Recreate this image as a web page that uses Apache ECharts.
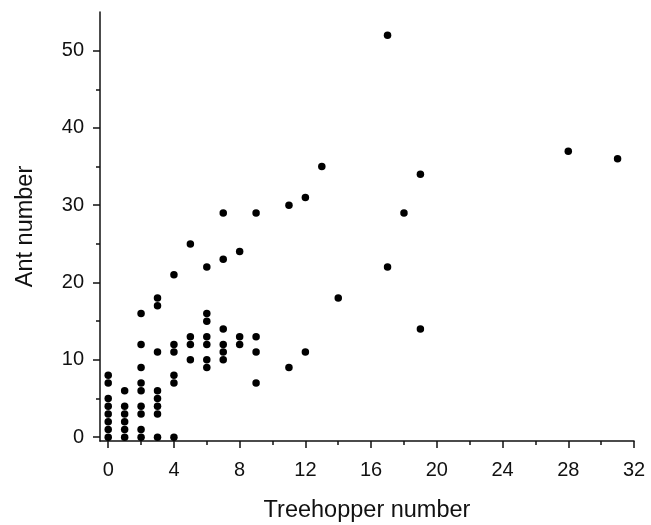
<!DOCTYPE html>
<html>
<head>
<meta charset="utf-8">
<script src="https://cdn.jsdelivr.net/npm/echarts@6/dist/echarts.min.js"></script>
<style>
  html, body { margin: 0; padding: 0; background: #fff; }
  #chart { width: 651px; height: 525px; }
</style>
</head>
<body>
<div id="chart"></div>
<script>
// treehopper count vs ant count, one entry per plant
var treehoppers = [
  0, 0, 0, 0, 0, 0, 0, 0,
  1, 1, 1, 1, 1, 1,
  2, 2, 2, 2, 2, 2, 2, 2, 2,
  3, 3, 3, 3, 3, 3, 3, 3,
  4, 4, 4, 4, 4, 4,
  5, 5, 5, 5,
  6, 6, 6, 6, 6, 6, 6,
  7, 7, 7, 7, 7, 7,
  8, 8, 8,
  9, 9, 9, 9,
  11, 11, 12, 12, 13, 14, 17, 17, 18, 19, 19, 28, 31
]
var ants = [
  0, 1, 2, 3, 4, 5, 7, 8,
  0, 1, 2, 3, 4, 6,
  0, 1, 3, 4, 6, 7, 9, 12, 16,
  0, 3, 4, 5, 6, 11, 17, 18,
  0, 7, 8, 11, 12, 21,
  10, 12, 13, 25,
  9, 10, 12, 13, 15, 16, 22,
  10, 11, 12, 14, 23, 29,
  12, 13, 24,
  7, 11, 13, 29,
  9, 30, 11, 31, 35, 18, 22, 52, 29, 14, 34, 37, 36
]
var xTicks = [0, 4, 8, 12, 16, 20, 24, 28, 32]
var xMinorTicks = [0, 2, 4, 6, 8, 10, 12, 14, 16, 18, 20, 22, 24, 26, 28, 30, 32]
var yTicks = [0, 10, 20, 30, 40, 50]
var yMinorTicks = [0, 5, 10, 15, 20, 25, 30, 35, 40, 45, 50]

var chart = echarts.init(document.getElementById('chart'))

var points = treehoppers.map(function (t, i) { return [t, ants[i]] })
var font = 'Liberation Sans, Arial, sans-serif'
var ink = '#111'

var option = {
  animation: false,
  backgroundColor: '#fff',
  grid: { left: 100, right: 17, top: 12, bottom: 84, outerBoundsMode: 'none', containLabel: false },
  xAxis: [
    {
      type: 'value', min: -0.5, max: 32,
      name: 'Treehopper number', nameLocation: 'middle', nameGap: 58,
      nameTextStyle: { fontFamily: font, fontSize: 23.5, color: ink },
      splitLine: { show: false },
      axisLine: { show: true, onZero: false, lineStyle: { color: ink, width: 1.5 } },
      axisTick: { show: true, length: 7, customValues: xTicks, lineStyle: { color: ink, width: 1.5 } },
      axisLabel: { customValues: xTicks, margin: 19, fontFamily: font, fontSize: 20, color: ink }
    },
    {
      type: 'value', min: -0.5, max: 32, position: 'bottom',
      splitLine: { show: false },
      axisLine: { show: false, onZero: false },
      axisTick: { show: true, length: 4, customValues: xMinorTicks, lineStyle: { color: ink, width: 1.5 } },
      axisLabel: { show: false }
    }
  ],
  yAxis: [
    {
      type: 'value', min: -0.5, max: 55,
      name: 'Ant number', nameLocation: 'middle', nameGap: 62,
      nameTextStyle: { fontFamily: font, fontSize: 23.5, color: ink },
      splitLine: { show: false },
      axisLine: { show: true, onZero: false, lineStyle: { color: ink, width: 1.5 } },
      axisTick: { show: true, length: 7, customValues: yTicks, lineStyle: { color: ink, width: 1.5 } },
      axisLabel: { customValues: yTicks, margin: 16, fontFamily: font, fontSize: 20, color: ink }
    },
    {
      type: 'value', min: -0.5, max: 55, position: 'left',
      splitLine: { show: false },
      axisLine: { show: false, onZero: false },
      axisTick: { show: true, length: 4, customValues: yMinorTicks, lineStyle: { color: ink, width: 1.5 } },
      axisLabel: { show: false }
    }
  ],
  series: [
    {
      type: 'scatter',
      xAxisIndex: 0,
      yAxisIndex: 0,
      symbol: 'circle',
      symbolSize: 7.5,
      itemStyle: { color: '#000', opacity: 1 },
      data: points
    }
  ]
}

option && chart.setOption(option)
</script>
</body>
</html>
